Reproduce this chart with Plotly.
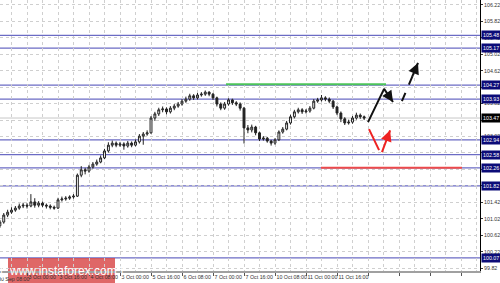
import plotly.graph_objects as go

# ---------------- data ----------------
# bar time in trading hours since "30 Sep 08:00" (2-hour bars)
bar_hours = list(range(2, 192, 2))
opens = [100.85, 100.94, 101.11, 101.18, 101.23, 101.28, 101.33, 101.35, 101.33, 101.43,
         101.35, 101.40, 101.35, 101.33, 101.30, 101.28, 101.48, 101.50, 101.52, 101.55,
         101.57, 102.08, 102.21, 102.18, 102.28, 102.35, 102.40, 102.50, 102.67, 102.81,
         102.86, 102.81, 102.84, 102.79, 102.86, 102.81, 102.89, 103.03, 103.08, 103.11,
         103.47, 103.57, 103.67, 103.69, 103.62, 103.71, 103.76, 103.81, 103.88, 103.93,
         104.01, 103.96, 104.03, 104.05, 104.10, 104.05, 103.96, 103.81, 103.71, 103.81,
         103.91, 103.84, 103.81, 103.71, 103.23, 103.18, 103.25, 103.11, 102.96, 102.98,
         102.91, 102.86, 102.94, 103.13, 103.20, 103.35, 103.50, 103.62, 103.67, 103.62,
         103.64, 103.71, 103.88, 103.91, 103.96, 103.93, 103.88, 103.74, 103.59, 103.45,
         103.35, 103.37, 103.47, 103.54, 103.50]
closes = [100.94, 101.11, 101.18, 101.23, 101.28, 101.33, 101.35, 101.33, 101.43, 101.35,
          101.40, 101.35, 101.33, 101.30, 101.28, 101.48, 101.50, 101.52, 101.55, 101.57,
          102.08, 102.21, 102.18, 102.28, 102.35, 102.40, 102.50, 102.67, 102.81, 102.86,
          102.81, 102.84, 102.79, 102.86, 102.81, 102.89, 103.03, 103.08, 103.11, 103.47,
          103.57, 103.67, 103.69, 103.62, 103.71, 103.76, 103.81, 103.88, 103.93, 104.01,
          103.96, 104.03, 104.05, 104.10, 104.05, 103.96, 103.81, 103.71, 103.81, 103.91,
          103.84, 103.81, 103.71, 103.23, 103.18, 103.25, 103.11, 102.96, 102.98, 102.91,
          102.86, 102.94, 103.13, 103.20, 103.35, 103.50, 103.62, 103.67, 103.62, 103.64,
          103.71, 103.88, 103.91, 103.96, 103.93, 103.88, 103.74, 103.59, 103.45, 103.35,
          103.37, 103.47, 103.54, 103.50, 103.47]
highs = [100.99, 101.16, 101.24, 101.30, 101.33, 101.39, 101.41, 101.40, 101.62, 101.52,
         101.45, 101.44, 101.39, 101.37, 101.34, 101.53, 101.56, 101.57, 101.59, 101.62,
         102.12, 102.30, 102.26, 102.33, 102.40, 102.46, 102.56, 102.72, 102.88, 102.92,
         102.90, 102.89, 102.88, 102.91, 102.90, 102.95, 103.08, 103.13, 103.17, 103.52,
         103.62, 103.72, 103.75, 103.73, 103.76, 103.81, 103.86, 103.93, 103.99, 104.06,
         104.05, 104.08, 104.10, 104.14, 104.12, 104.08, 103.99, 103.85, 103.86, 103.95,
         103.94, 103.88, 103.85, 103.74, 103.30, 103.31, 103.28, 103.14, 103.03, 103.01,
         102.94, 102.98, 103.17, 103.25, 103.40, 103.55, 103.67, 103.72, 103.71, 103.69,
         103.76, 103.93, 103.96, 104.03, 104.00, 103.97, 103.91, 103.77, 103.63, 103.49,
         103.43, 103.52, 103.60, 103.58, 103.53]
lows = [100.80, 100.90, 101.06, 101.14, 101.19, 101.24, 101.28, 101.27, 101.30, 101.29,
        101.30, 101.30, 101.27, 101.25, 101.24, 101.26, 101.44, 101.46, 101.48, 101.51,
        101.55, 102.03, 102.10, 102.14, 102.24, 102.31, 102.37, 102.47, 102.63, 102.76,
        102.76, 102.77, 102.70, 102.75, 102.76, 102.78, 102.85, 102.82, 103.04, 103.09,
        103.40, 103.52, 103.61, 103.56, 103.58, 103.66, 103.72, 103.77, 103.84, 103.89,
        103.91, 103.92, 103.99, 104.01, 104.00, 103.91, 103.75, 103.66, 103.67, 103.77,
        103.79, 103.76, 103.65, 102.85, 103.10, 103.12, 103.05, 102.91, 102.92, 102.87,
        102.80, 102.82, 102.91, 103.09, 103.17, 103.31, 103.46, 103.58, 103.57, 103.58,
        103.60, 103.68, 103.84, 103.87, 103.88, 103.83, 103.69, 103.54, 103.37, 103.30,
        103.31, 103.33, 103.43, 103.45, 103.42]

# horizontal support/resistance levels
level_values = [105.48, 105.17, 104.27, 103.93, 102.94, 102.58, 102.26, 101.82, 100.07]
current_price = 103.47
green_level = {"x": [118.7, 201.3], "y": [104.29, 104.29]}
red_level = {"x": [167.7, 240.5], "y": [102.26, 102.26]}

# forecast arrows (hours, price)
black_path = {"x": [192.0, 200.3, 204.9], "y": [103.37, 104.18, 103.86]}
black_dashed = {"x": [209.5, 217.8], "y": [103.88, 104.81]}
red_seg1 = {"x": [192.5, 197.7], "y": [103.20, 102.69]}
red_seg2 = {"x": [199.2, 203.4], "y": [102.64, 103.17]}

# axes
y_ticks = [99.82, 100.22, 100.62, 101.02, 101.42, 101.82, 102.22, 102.62, 103.02,
           103.42, 103.82, 104.22, 104.62, 105.02, 105.42, 105.82, 106.22]
x_tick_hours = [16, 32, 48, 64, 80, 96, 112, 128, 144, 160, 176, 192, 208, 224, 240]
x_tick_text = ["3 Oct 00:00", "3 Oct 16:00", "4 Oct 08:00", "5 Oct 00:00", "5 Oct 16:00",
               "6 Oct 08:00", "7 Oct 00:00", "7 Oct 16:00", "10 Oct 08:00", "11 Oct 00:00",
               "11 Oct 16:00", "", "", "", ""]
first_label = "30 Sep 08:00"

X_LO, X_HI = 2.06, 249.8
Y_LO, Y_HI = 99.75, 106.34

FONT = "Liberation Sans"
FS = 5.3
LEVEL_BLUE = "#6b6bc4"
NAVY = "#0c0c78"

fig = go.Figure()

fig.add_trace(go.Candlestick(
    x=bar_hours, open=opens, high=highs, low=lows, close=closes,
    increasing=dict(line=dict(color="#222222", width=1), fillcolor="#ffffff"),
    decreasing=dict(line=dict(color="#222222", width=1), fillcolor="#222222"),
    whiskerwidth=0, showlegend=False, hoverinfo="skip",
))

# level lines
for v in level_values:
    fig.add_hline(y=v, line=dict(color=LEVEL_BLUE, width=1.2), layer="below")
fig.add_hline(y=current_price, line=dict(color="#c8c8c8", width=1), layer="below")

fig.add_trace(go.Scatter(x=green_level["x"], y=green_level["y"], mode="lines",
                         line=dict(color="#4cc45a", width=2), showlegend=False, hoverinfo="skip"))
fig.add_trace(go.Scatter(x=red_level["x"], y=red_level["y"], mode="lines",
                         line=dict(color="#ec4a4a", width=2), showlegend=False, hoverinfo="skip"))

# forecast arrows
def add_arrow(xs, ys, color, dash=None):
    fig.add_trace(go.Scatter(x=xs, y=ys, mode="lines",
                             line=dict(color=color, width=2, dash=dash),
                             showlegend=False, hoverinfo="skip"))
    x0, y0, x1, y1 = xs[-2], ys[-2], xs[-1], ys[-1]
    fig.add_annotation(x=x1, y=y1, ax=x0 + (x1 - x0) * 0.6, ay=y0 + (y1 - y0) * 0.6,
                       xref="x", yref="y", axref="x", ayref="y", text="",
                       showarrow=True, arrowhead=2, arrowsize=1.1, arrowwidth=2,
                       arrowcolor=color)

add_arrow(black_path["x"], black_path["y"], "#111111")
add_arrow(black_dashed["x"], black_dashed["y"], "#111111", dash="dash")
fig.add_trace(go.Scatter(x=red_seg1["x"], y=red_seg1["y"], mode="lines",
                         line=dict(color="#ee2222", width=2), showlegend=False, hoverinfo="skip"))
add_arrow(red_seg2["x"], red_seg2["y"], "#ee2222")

# price labels on right axis
for v in level_values:
    fig.add_annotation(x=1, y=v, xref="paper", yref="y", xanchor="left", yanchor="middle",
                       xshift=1, text=f"{v:.2f}", showarrow=False, bgcolor=NAVY,
                       font=dict(family=FONT, size=FS, color="white"), borderpad=1)
fig.add_annotation(x=1, y=current_price, xref="paper", yref="y", xanchor="left", yanchor="middle",
                   xshift=1, text=f"{current_price:.2f}", showarrow=False, bgcolor="#000000",
                   font=dict(family=FONT, size=FS, color="white"), borderpad=1)

# first (cut) x label
fig.add_annotation(x=(0 - X_LO) / (X_HI - X_LO), y=0, xref="paper", yref="paper",
                   xanchor="left", yanchor="top", yshift=-3, text=first_label, showarrow=False,
                   font=dict(family=FONT, size=FS, color="#333333"))

# watermark (below axis labels so they show over it)
fig.add_shape(type="rect", xref="paper", yref="paper",
              x0=8 / 480, x1=115 / 480, y0=-12 / 271, y1=13 / 271,
              fillcolor="rgba(214,60,60,0.78)", line=dict(width=0), layer="below")
fig.add_annotation(x=61.5 / 480, y=0.5 / 271, xref="paper", yref="paper",
                   text="[  www.instaforex.com ]", showarrow=False,
                   font=dict(family=FONT, size=12, color="white"),
                   xanchor="center", yanchor="middle")

fig.update_layout(
    width=500, height=283,
    margin=dict(l=0, r=20, t=0, b=12, autoexpand=False),
    paper_bgcolor="white", plot_bgcolor="white",
    showlegend=False,
    xaxis=dict(
        range=[X_LO, X_HI], rangeslider=dict(visible=False),
        tickmode="array", tickvals=x_tick_hours, ticktext=x_tick_text,
        tickangle=0, automargin=False,
        ticks="outside", ticklen=3, tickcolor="#555555",
        ticklabelposition="outside right",
        tickfont=dict(family=FONT, size=FS, color="#333333"),
        showgrid=True, gridcolor="#cfcfcf", griddash="dot", gridwidth=1,
        minor=dict(tickvals=[h + 8 for h in x_tick_hours] + [8], showgrid=True,
                   gridcolor="#cfcfcf", griddash="dot", gridwidth=1),
        showline=True, linecolor="#a0a0a0", linewidth=2,
        zeroline=False, fixedrange=True,
    ),
    yaxis=dict(
        range=[Y_LO, Y_HI], side="right", automargin=False,
        tickmode="array", tickvals=y_ticks, ticktext=[f"{v:.2f}" for v in y_ticks],
        ticks="outside", ticklen=2, tickcolor="#333333",
        tickfont=dict(family=FONT, size=FS, color="#333333"),
        showgrid=True, gridcolor="#cfcfcf", griddash="dot", gridwidth=1,
        showline=True, linecolor="#000000", linewidth=1,
        zeroline=False, fixedrange=True,
    ),
)

fig.write_html("out.html")
